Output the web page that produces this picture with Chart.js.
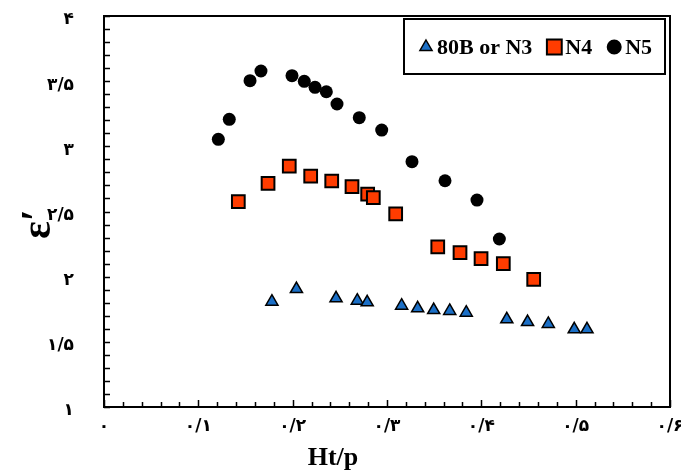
<!DOCTYPE html>
<html>
<head>
<meta charset="utf-8">
<script src="https://cdn.jsdelivr.net/npm/chart.js@4.4.1/dist/chart.umd.min.js"></script>
<style>
  html, body { margin: 0; padding: 0; background: #fff; }
  #wrap { width: 681px; height: 473px; }
</style>
</head>
<body>
<div id="wrap"><canvas id="chart"></canvas></div>
<script>
// values
var n3X = [0.178, 0.204, 0.246, 0.2685, 0.279, 0.3155, 0.3325, 0.3495, 0.3665, 0.384, 0.427, 0.449, 0.471, 0.4985, 0.512];
var n3Y = [1.808, 1.905, 1.834, 1.816, 1.803, 1.777, 1.757, 1.744, 1.737, 1.724, 1.673, 1.652, 1.637, 1.596, 1.596];

var n4X = [0.1424, 0.1739, 0.1964, 0.2191, 0.2414, 0.2629, 0.2795, 0.2855, 0.3092, 0.3538, 0.3774, 0.3997, 0.4233, 0.4555];
var n4Y = [2.575, 2.716, 2.849, 2.772, 2.734, 2.690, 2.634, 2.606, 2.481, 2.228, 2.184, 2.138, 2.100, 1.980];

var n5X = [0.1212, 0.1328, 0.1548, 0.1664, 0.1993, 0.2123, 0.2237, 0.2357, 0.247, 0.2706, 0.2944, 0.3265, 0.3615, 0.3954, 0.4191];
var n5Y = [3.054, 3.207, 3.504, 3.578, 3.542, 3.499, 3.453, 3.419, 3.325, 3.220, 3.125, 2.882, 2.736, 2.588, 2.289];

var seriesNames = ['80B or N3', 'N4', 'N5'];
var xTitle = 'Ht/p';
var yTitle = 'ε′';

var faDigits = '۰۱۲۳۴۵۶۷۸۹';
function toFa(v) {
    var s = String(Math.round(v * 10) / 10).replace('.', '/');
    return s.replace(/\d/g, function (d) { return faDigits[d]; });
}

function pts(xs, ys) {
    return xs.map(function (x, i) { return { x: x, y: ys[i] }; });
}

function marker(ctx, style, x, y, r) {
    ctx.beginPath();
    if (style === 'triangle') {
        ctx.moveTo(x, y - r);
        ctx.lineTo(x + r * 0.866, y + r * 0.5);
        ctx.lineTo(x - r * 0.866, y + r * 0.5);
        ctx.closePath();
    } else if (style === 'rect') {
        var s = r * Math.SQRT1_2;
        ctx.rect(x - s, y - s, 2 * s, 2 * s);
    } else {
        ctx.arc(x, y, r, 0, Math.PI * 2);
    }
    ctx.fill();
    ctx.stroke();
}

// frame with inward ticks
var framePlugin = {
    id: 'frame',
    beforeDatasetsDraw: function (chart) {
        var ctx = chart.ctx, a = chart.chartArea;
        var x = chart.scales.x, y = chart.scales.y;
        ctx.save();
        ctx.strokeStyle = '#000';
        ctx.lineWidth = 1.5;
        ctx.beginPath();
        for (var i = 0; i <= 30; i++) {
            var px = Math.round(x.getPixelForValue(i * 0.02)) + 0.5;
            var len = i % 5 === 0 ? 7 : 5;
            ctx.moveTo(px, a.bottom);
            ctx.lineTo(px, a.bottom - len);
        }
        for (var j = 0; j <= 30; j++) {
            var py = Math.round(y.getPixelForValue(1 + j * 0.1)) + 0.5;
            ctx.moveTo(a.left, py);
            ctx.lineTo(a.left + 6, py);
        }
        ctx.stroke();
        ctx.lineWidth = 2;
        ctx.strokeRect(a.left, a.top, a.right - a.left, a.bottom - a.top);
        ctx.restore();
    },
    afterDraw: function (chart) {
        var ctx = chart.ctx, a = chart.chartArea;
        ctx.save();
        ctx.fillStyle = '#000';
        // axis titles
        ctx.font = 'bold 26px "Liberation Serif"';
        ctx.textAlign = 'center';
        ctx.textBaseline = 'middle';
        ctx.fillText(xTitle, a.left + 229, 458);
        ctx.save();
        ctx.translate(39, 224);
        ctx.rotate(-Math.PI / 2);
        ctx.font = 'bold 42px "Liberation Serif"';
        ctx.fillText(yTitle, 0, 0);
        ctx.restore();

        // legend box
        var bx = a.right - 266, by = a.top + 3, bw = 261, bh = 55;
        ctx.fillStyle = '#fff';
        ctx.fillRect(bx, by, bw, bh);
        ctx.strokeStyle = '#000';
        ctx.lineWidth = 2;
        ctx.strokeRect(bx, by, bw, bh);
        ctx.font = 'bold 22px "Liberation Serif"';
        ctx.textAlign = 'left';
        var cx = bx + 22, cy = by + 28;
        var sizes = [7, 10.5, 6.5];
        chart.data.datasets.forEach(function (ds, k) {
            ctx.fillStyle = ds.backgroundColor;
            ctx.strokeStyle = '#000';
            ctx.lineWidth = ds.borderWidth;
            marker(ctx, ds.pointStyle, cx, cy, sizes[k]);
            ctx.fillStyle = '#000';
            ctx.fillText(ds.label, cx + 11, cy + 1);
            cx += 11 + ctx.measureText(ds.label).width + 22;
        });
        ctx.restore();
    }
};

var tickFont = { family: '"DejaVu Sans"', size: 17, weight: 'bold' };

var config = {
    type: 'scatter',
    data: {
        datasets: [{
            label: seriesNames[0],
            data: pts(n3X, n3Y),
            pointStyle: 'triangle',
            pointRadius: 7,
            backgroundColor: '#1b6fc6',
            borderColor: '#000',
            borderWidth: 1.5
        }, {
            label: seriesNames[1],
            data: pts(n4X, n4Y),
            pointStyle: 'rect',
            pointRadius: 9,
            backgroundColor: '#ff3c00',
            borderColor: '#000',
            borderWidth: 2
        }, {
            label: seriesNames[2],
            data: pts(n5X, n5Y),
            pointStyle: 'circle',
            pointRadius: 6.5,
            backgroundColor: '#000',
            borderColor: '#000',
            borderWidth: 0
        }]
    },
    options: {
        responsive: true,
        maintainAspectRatio: false,
        animation: false,
        layout: { padding: { top: 16, right: 11, left: 0, bottom: 0 } },
        plugins: {
            legend: { display: false },
            tooltip: { enabled: false }
        },
        scales: {
            x: {
                type: 'linear',
                min: 0,
                max: 0.6,
                ticks: { stepSize: 0.1, callback: toFa, padding: 9, color: '#000', font: tickFont, maxRotation: 0 },
                grid: { display: false, drawTicks: false },
                border: { display: false },
                afterFit: function (s) { s.height = 66; s.paddingLeft = 0; s.paddingRight = 0; }
            },
            y: {
                type: 'linear',
                min: 1,
                max: 4,
                ticks: { stepSize: 0.5, callback: toFa, padding: 30, labelOffset: 4, color: '#000', font: tickFont },
                grid: { display: false, drawTicks: false },
                border: { display: false },
                afterFit: function (s) { s.width = 104; s.paddingTop = 0; s.paddingBottom = 0; }
            }
        }
    },
    plugins: [framePlugin]
};

window.onload = function () {
    var ctx = document.getElementById('chart').getContext('2d');
    window.myScatter = new Chart(ctx, config);
};
</script>
</body>
</html>
